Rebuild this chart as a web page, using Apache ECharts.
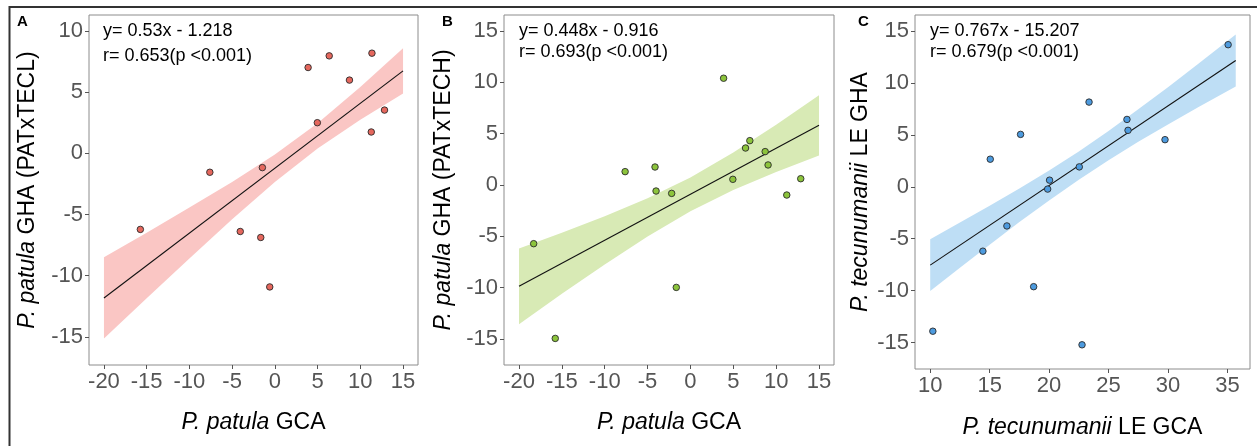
<!DOCTYPE html>
<html>
<head>
<meta charset="utf-8">
<script src="https://cdn.jsdelivr.net/npm/echarts@6/dist/echarts.min.js"></script>
<style>
html,body{margin:0;padding:0;background:#fff;}
#c{width:1257px;height:446px;}
</style>
</head>
<body>
<div id="c"></div>
<script>
// ---- tick labels ----
const xTicksAB = [-20,-15,-10,-5,0,5,10,15];
const yTicksA = [-15,-10,-5,0,5,10];
const yTicksBC = [-15,-10,-5,0,5,10,15];
const xTicksC = [10,15,20,25,30,35];

// ---- panel A ----
const aX = [-15.74,-7.61,-1.46,-4.05,-1.65,-0.60,3.89,6.36,4.97,8.73,11.36,11.28,12.83];
const aY = [-6.22,-1.55,-1.17,-6.39,-6.88,-10.92,7.01,7.96,2.50,5.98,8.18,1.74,3.53];
const aFitX = [-20, 15];
const aFitY = [-11.82, 6.73];
const aBandX = [-20,-15,-10,-5,0,5,10,15];
const aLow  = [-15.14,-11.85,-8.60,-5.40,-2.34,0.40,2.74,4.88];
const aHigh = [-8.50,-6.49,-4.44,-2.34,-0.10,2.46,5.42,8.58];

// ---- panel B ----
const bX = [-18.29,-15.77,-7.62,-4.13,-4.01,-2.19,-1.65,3.87,4.95,6.43,6.93,8.72,9.06,11.24,12.87];
const bY = [-5.73,-14.96,1.29,1.74,-0.60,-0.83,-9.99,10.39,0.54,3.59,4.31,3.24,1.94,-0.99,0.60];
const bFitX = [-20, 15];
const bFitY = [-9.88, 5.80];
const bBandX = [-20,-15,-10,-5,0,5,10,15];
const bLow  = [-13.57,-10.62,-7.75,-5.02,-2.57,-0.51,1.26,2.87];
const bHigh = [-6.19,-4.66,-3.05,-1.30,0.73,3.15,5.86,8.73];

// ---- panel C ----
const cX = [10.22,14.43,15.05,16.45,17.60,18.70,19.88,20.04,22.54,22.77,23.36,26.55,26.64,29.75,35.06];
const cY = [-13.91,-6.20,2.66,-3.77,5.05,-9.62,-0.22,0.64,1.92,-15.22,8.16,6.49,5.44,4.54,13.69];
const cFitX = [10, 35.7];
const cFitY = [-7.54, 12.17];
const cBandX = [10,12.5,15,17.5,20,22.5,25,27.5,30,32.5,35.7];
const cLow  = [-10.04,-7.79,-5.57,-3.40,-1.31,0.69,2.57,4.34,6.01,7.64,9.67];
const cHigh = [-5.04,-3.45,-1.83,-0.16,1.57,3.41,5.37,7.46,9.59,11.80,14.67];

const eqA = ['y= 0.53x - 1.218', 'r= 0.653(p <0.001)'];
const eqB = ['y= 0.448x - 0.916', 'r= 0.693(p <0.001)'];
const eqC = ['y= 0.767x - 15.207', 'r= 0.679(p <0.001)'];

const FONT = '"Liberation Sans", Arial, Helvetica, sans-serif';
const zip = (xs, ys) => xs.map((x, i) => [x, ys[i]]);

function axisCommon(ticks) {
  return {
    type: 'value',
    splitLine: { show: false },
    axisLine: { show: false, onZero: false },
    axisTick: { show: true, inside: false, length: 4, lineStyle: { color: '#555', width: 1 }, customValues: ticks },
    axisLabel: { customValues: ticks, color: '#555', fontSize: 22, fontFamily: FONT, margin: 6 },
  };
}
function titleStyle() {
  return {
    color: '#000', fontSize: 23, fontFamily: FONT,
    rich: {
      i: { fontStyle: 'italic', fontSize: 23, fontFamily: FONT, color: '#000' },
      n: { fontSize: 23, fontFamily: FONT, color: '#000' }
    }
  };
}
function band(idx, bx, lo, hi, color) {
  return {
    type: 'custom', xAxisIndex: idx, yAxisIndex: idx, silent: true, z: 1,
    data: [[bx[0], lo[0]]],
    renderItem: function (params, api) {
      const pts = [];
      for (let i = 0; i < bx.length; i++) pts.push(api.coord([bx[i], hi[i]]));
      for (let i = bx.length - 1; i >= 0; i--) pts.push(api.coord([bx[i], lo[i]]));
      return { type: 'polygon', shape: { points: pts }, style: { fill: color, stroke: null } };
    }
  };
}
function fit(idx, fx, fy) {
  return {
    type: 'line', xAxisIndex: idx, yAxisIndex: idx, z: 2, silent: true,
    data: zip(fx, fy), showSymbol: false, symbol: 'none',
    lineStyle: { color: '#111', width: 1.1 }
  };
}
function pts(idx, xs, ys, color) {
  return {
    type: 'scatter', xAxisIndex: idx, yAxisIndex: idx, z: 3, silent: true,
    data: zip(xs, ys), symbolSize: 6.5,
    itemStyle: { color: color, borderColor: '#2a2a2a', borderWidth: 0.9, opacity: 1 }
  };
}
function textEl(left, top, txt, size, bold) {
  return { type: 'text', left: left, top: top, z: 100,
    style: { text: txt, fontSize: size, fontFamily: FONT, fontWeight: bold ? 'bold' : 'normal', fill: '#000' } };
}

const gridStyle = { show: true, borderColor: '#8c8c8c', borderWidth: 1, backgroundColor: '#fff' };

const option = {
  animation: false,
  backgroundColor: '#fff',
  grid: [
    Object.assign({ left: 89, top: 15, width: 329, height: 350 }, gridStyle),
    Object.assign({ left: 504, top: 15, width: 330, height: 350 }, gridStyle),
    Object.assign({ left: 915, top: 15, width: 335, height: 354 }, gridStyle)
  ],
  xAxis: [
    Object.assign(axisCommon(xTicksAB), { gridIndex: 0, position: 'bottom', min: -21.75, max: 16.75,
      name: '{i|P. patula}{n| GCA}', nameLocation: 'middle', nameGap: 46, nameTextStyle: titleStyle() }),
    Object.assign(axisCommon(xTicksAB), { gridIndex: 1, position: 'bottom', min: -21.75, max: 16.75,
      name: '{i|P. patula}{n| GCA}', nameLocation: 'middle', nameGap: 46, nameTextStyle: titleStyle() }),
    Object.assign(axisCommon(xTicksC), { gridIndex: 2, position: 'bottom', min: 8.72, max: 36.9,
      name: '{i|P. tecunumanii}{n| LE GCA}', nameLocation: 'middle', nameGap: 47, nameTextStyle: titleStyle() })
  ],
  yAxis: [
    Object.assign(axisCommon(yTicksA), { gridIndex: 0, position: 'left', min: -17.3, max: 11.3,
      name: '{i|P. patula}{n| GHA (PATxTECL)}', nameLocation: 'middle', nameGap: 50, nameTextStyle: titleStyle() }),
    Object.assign(axisCommon(yTicksBC), { gridIndex: 1, position: 'left', min: -17.55, max: 16.55,
      name: '{i|P. patula}{n| GHA (PATxTECH)}', nameLocation: 'middle', nameGap: 49, nameTextStyle: titleStyle() }),
    Object.assign(axisCommon(yTicksBC), { gridIndex: 2, position: 'left', min: -17.55, max: 16.55,
      name: '{i|P. tecunumanii}{n| LE GHA}', nameLocation: 'middle', nameGap: 43, nameTextStyle: titleStyle() })
  ],
  series: [
    band(0, aBandX, aLow, aHigh, '#FAC6C4'),
    fit(0, aFitX, aFitY),
    pts(0, aX, aY, '#E5675D'),
    band(1, bBandX, bLow, bHigh, '#D8EAB5'),
    fit(1, bFitX, bFitY),
    pts(1, bX, bY, '#8CC43C'),
    band(2, cBandX, cLow, cHigh, '#BEDEF5'),
    fit(2, cFitX, cFitY),
    pts(2, cX, cY, '#4D9BDF')
  ],
  graphic: [
    { type: 'rect', z: 100, shape: { x: 9.5, y: 7, width: 1300, height: 500 },
      style: { fill: 'none', stroke: '#333', lineWidth: 2 } },
    textEl(17, 14, 'A', 15, true),
    textEl(442, 14, 'B', 15, true),
    textEl(858, 14, 'C', 15, true),
    textEl(103, 22, eqA[0], 18), textEl(103, 47, eqA[1], 18),
    textEl(519, 22, eqB[0], 18), textEl(519, 43, eqB[1], 18),
    textEl(930, 22, eqC[0], 18), textEl(930, 43, eqC[1], 18)
  ]
};

const chart = echarts.init(document.getElementById('c'), null, { renderer: 'canvas' });
chart.setOption(option);
</script>
</body>
</html>
